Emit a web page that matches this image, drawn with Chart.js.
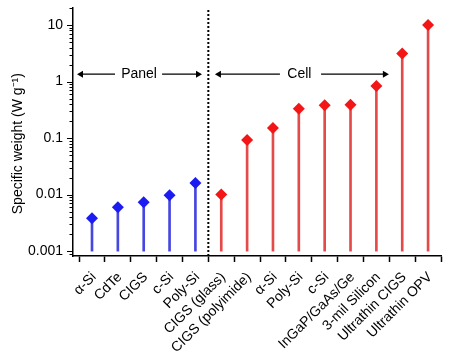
<!DOCTYPE html>
<html><head><meta charset="utf-8">
<script src="https://cdn.jsdelivr.net/npm/chart.js@4/dist/chart.umd.min.js"></script>
<style>html,body{margin:0;padding:0;background:#fff}#wrap{width:450px;height:362px;position:relative}</style>
</head><body><div id="wrap"><canvas id="c"></canvas></div>
<script>
// ---- data ----
const categories = ['α-Si','CdTe','CIGS','c-Si','Poly-Si','CIGS (glass)','CIGS (polyimide)','α-Si','Poly-Si','c-Si','InGaP/GaAs/Ge','3-mil Silicon','Ultrathin CIGS','Ultrathin OPV'];
const panelValues = [0.0038, 0.006, 0.0073, 0.0097, 0.016];
const cellValues = [0.01, 0.092, 0.15, 0.33, 0.38, 0.39, 0.83, 3.15, 10];
const stemBase = 0.001;
const yTickValues = [0.001, 0.01, 0.1, 1, 10];
const yTickLabels = ['0.001', '0.01', '0.1', '1', '10'];
const groupLabels = ['Panel', 'Cell'];
const dividerAt = 4.5;

// ---- annotation geometry (category units / axis values) ----
const Y_MIN = 0.00082, Y_MAX = 20;
const ARROW_Y = 1.35;
const arrowSpans = [
  {from: -0.425, gapFrom: 0.89, gapTo: 2.71, to: 4.10, textAt: 1.82},
  {from: 4.91, gapFrom: 7.27, gapTo: 8.86, to: 11.33, textAt: 8.02}
];

const FONT = '"Liberation Sans", Arial, Helvetica, sans-serif';
const BLUE = '#1c1cf2', BLUE_STEM = '#4646e0';
const RED = '#f21616', RED_STEM = '#e54a4a';

const nPanel = panelValues.length;
const panelPts = panelValues.map((v, i) => ({x: i, y: v}));
const cellPts = cellValues.map((v, i) => ({x: i + nPanel, y: v}));

const arrowDatasets = arrowSpans.map(a => ({
  type: 'line',
  data: [{x: a.from, y: ARROW_Y}, {x: a.gapFrom, y: ARROW_Y}, {x: (a.gapFrom + a.gapTo) / 2, y: null}, {x: a.gapTo, y: ARROW_Y}, {x: a.to, y: ARROW_Y}],
  borderColor: '#000', backgroundColor: '#000', borderWidth: 1.2,
  pointStyle: 'triangle', pointRadius: [4, 0, 0, 0, 4], pointRotation: [-90, 0, 0, 0, 90],
  pointBorderWidth: 0, spanGaps: false, order: 1
}));

const annot = {
  id: 'annot',
  afterDatasetsDraw(chart) {
    const {ctx, scales: {x, y}} = chart;
    ctx.save();
    ctx.font = '14px ' + FONT;
    ctx.fillStyle = '#000';
    ctx.textAlign = 'center';
    ctx.textBaseline = 'middle';
    arrowSpans.forEach((a, i) => ctx.fillText(groupLabels[i], x.getPixelForValue(a.textAt), y.getPixelForValue(ARROW_Y)));
    ctx.strokeStyle = '#000';
    ctx.lineWidth = 1;
    const ax = chart.chartArea.left;
    y.ticks.forEach(t => {
      const lg = Math.log10(t.value);
      const major = Math.abs(lg - Math.round(lg)) < 1e-9;
      const py = Math.round(y.getPixelForValue(t.value)) + 0.5;
      const len = major ? 6 : 3.5;
      ctx.beginPath(); ctx.moveTo(ax - len, py); ctx.lineTo(ax, py); ctx.stroke();
    });
    ctx.restore();
  }
};

new Chart(document.getElementById('c'), {
  type: 'scatter',
  data: {
    datasets: [
      {type: 'scatter', data: panelPts, pointStyle: 'rectRot', pointRadius: 6, pointHoverRadius: 6, backgroundColor: BLUE, borderColor: BLUE, borderWidth: 0, order: 0},
      {type: 'scatter', data: cellPts, pointStyle: 'rectRot', pointRadius: 6, pointHoverRadius: 6, backgroundColor: RED, borderColor: RED, borderWidth: 0, order: 0},
      {type: 'bar', data: panelPts.map(p => ({x: p.x, y: [stemBase, p.y]})), backgroundColor: BLUE_STEM, barThickness: 2, grouped: false, borderWidth: 0, order: 2},
      {type: 'bar', data: cellPts.map(p => ({x: p.x, y: [stemBase, p.y]})), backgroundColor: RED_STEM, barThickness: 2, grouped: false, borderWidth: 0, order: 2},
      {type: 'line', data: [{x: dividerAt, y: Y_MIN}, {x: dividerAt, y: Y_MAX}], borderColor: '#000', borderWidth: 2, borderDash: [2, 2], pointRadius: 0, order: 1},
      ...arrowDatasets
    ]
  },
  options: {
    responsive: true, maintainAspectRatio: false, animation: false,
    devicePixelRatio: 1,
    layout: {padding: {top: 8, right: 9, left: 0, bottom: 0}},
    plugins: {legend: {display: false}, tooltip: {enabled: false}},
    scales: {
      x: {
        type: 'linear', min: -0.735, max: 13.5, offset: false, bounds: 'data',
        afterBuildTicks(s) { s.ticks = categories.map((c, i) => ({value: i})); },
        afterFit(s) { s.height = 106; s.paddingLeft = 0; s.paddingRight = 0; },
        ticks: {autoSkip: false, maxRotation: 45, minRotation: 45, padding: 7, labelOffset: 2, color: '#000',
          font: {family: FONT, size: 14}, callback: (v) => categories[Math.round(v)]},
        grid: {offset: true, drawOnChartArea: false, drawTicks: true, tickLength: 6, color: '#000', tickWidth: 1.5},
        border: {display: true, color: '#000', width: 1.5}
      },
      y: {
        type: 'logarithmic', min: Y_MIN, max: Y_MAX, offset: false,
        afterBuildTicks(s) {
          const t = [];
          for (let e = -4; e <= 1; e++) for (let m = 1; m <= 9; m++) {
            const v = m * Math.pow(10, e);
            if (v >= s.min && v <= s.max) t.push({value: v});
          }
          s.ticks = t;
        },
        afterFit(s) { s.width = 73; s.paddingTop = 0; s.paddingBottom = 0; },
        ticks: {autoSkip: false, padding: 10, color: '#000', font: {family: FONT, size: 14},
          callback: (v) => { const i = yTickValues.findIndex(d => Math.abs(d - v) / d < 1e-6); return i >= 0 ? yTickLabels[i] : ''; }},
        grid: {display: true, drawOnChartArea: false, drawTicks: false},
        border: {display: true, color: '#000', width: 1.5},
        title: {display: true, text: 'Specific weight (W g⁻¹)      ', color: '#000', font: {family: FONT, size: 14}, padding: {top: 10, bottom: 0}}
      }
    }
  },
  plugins: [annot]
});
</script>
</body></html>
